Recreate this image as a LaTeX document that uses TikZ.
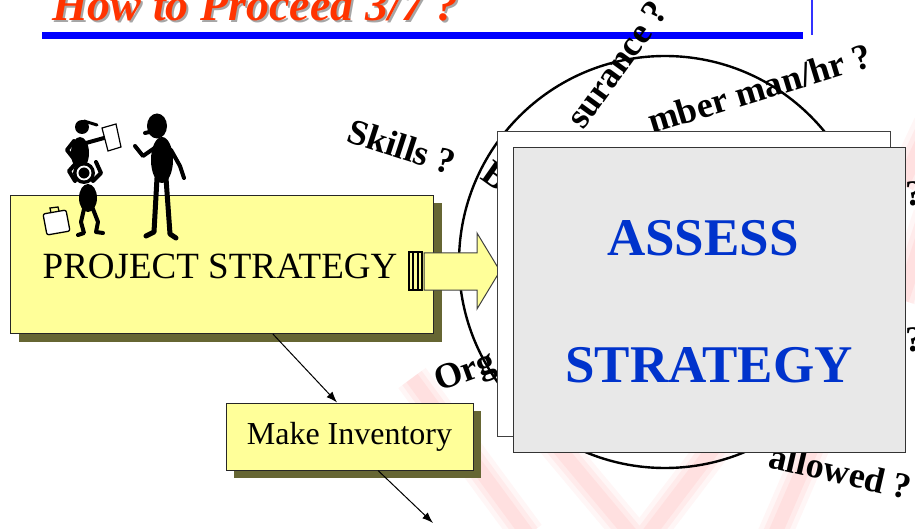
\documentclass[tikz,border=0pt]{standalone}
\usepackage{fontspec}
\setmainfont{Liberation Serif}
\usetikzlibrary{arrows.meta,calc,shadows}

\definecolor{padyellow}{HTML}{FFFF99}
\definecolor{padshadow}{HTML}{666633}
\definecolor{titlered}{HTML}{FF3300}
\definecolor{assessblue}{HTML}{0033CC}
\definecolor{panelgray}{HTML}{E8E8E8}

\newcommand{\px}[1]{\fontsize{#1}{#1}\selectfont}

\begin{document}
\begin{tikzpicture}[x=1pt,y=-1pt,
    pad/.style={fill=padyellow,draw=black!85,line width=1pt,
      drop shadow={shadow xshift=8pt,shadow yshift=-8pt,fill=padshadow,opacity=1}},
    question/.style={font=\bfseries\px{36},anchor=base west,inner sep=0pt},
    link/.style={-{Latex[length=11pt,width=8pt]},line width=1pt},
    figure/.style={line width=4pt,line cap=round,line join=round}]
  \useasboundingbox (0,0) rectangle (915,529);
  \clip (0,0) rectangle (915,529);

  % The faint logo behind everything.
  \foreach \w/\o in {34/0.06,24/0.08,14/0.08} {
    \begin{scope}[red!60,opacity=\o,line width=\w pt]
      \draw (412,378) -- (528,535);
      \draw (552,440) -- (640,545) -- (720,440);
      \draw (835,395) -- (770,545);
      \draw (902,300) -- (930,215);
      \draw (902,185) -- (930,125);
    \end{scope}
  }

  % Title and rule.
  \node[font=\bfseries\itshape\px{46},text=black!35,anchor=base west,inner sep=0pt] (titleshadow) at (54,23) {How to Proceed 3/7 ?};
  \node[font=\bfseries\itshape\px{46},text=titlered,anchor=base west,inner sep=0pt] (title) at (52,21) {How to Proceed 3/7 ?};
  \fill[blue] (42,32) rectangle (803,39);
  \draw[blue!80,line width=1.5pt] (812,0) -- (812,35);

  % The ring of questions.
  \draw[line width=2.4pt] (665,262) circle (206);
  \node[question,rotate=-18] (skills) at (345,141) {Skills ?};
  \node[question,rotate=-35] (budget) at (479,178) {B};
  \node[question,rotate=54] (insure) at (583,131) {surance ?};
  \node[question,rotate=17] (manhr) at (652,134) {mber man/hr ?};
  \node[question,rotate=20] (org) at (439,392) {Org};
  \node[question,rotate=-13] (allowed) at (767,467) {allowed ?};
  \foreach \y/\n in {206/qa,351/qb}
    \node[question] (\n) at (905,\y) {?};

  % Project strategy with its people.
  \node[pad,minimum width=423pt,minimum height=138pt,anchor=north west] (ps) at (10,195) {};
  \node[font=\px{37},anchor=base] (pstext) at (220,278) {PROJECT STRATEGY};
  \draw[fill=padyellow,line width=1.2pt] (409,252) rectangle (422,290);
  \draw[line width=1.2pt] (413,252) -- (413,290) (418,252) -- (418,290);
  \draw[fill=padyellow,draw=black!75,line width=1pt]
    (424,253) -- (477,253) -- (477,233) -- (500,271) -- (477,309) -- (477,290) -- (424,290) -- cycle;

  % The two sheets of the assessment.
  \node[draw=black!75,fill=white,line width=1pt,minimum width=393pt,minimum height=305pt,anchor=north west] (back) at (497,131) {};
  \node[draw=black!80,fill=panelgray,line width=1.2pt,minimum width=392pt,minimum height=305pt,anchor=north west] (front) at (513,147) {};
  \node[font=\bfseries\px{53},text=assessblue,anchor=base] (assess) at (703,255) {ASSESS};
  \node[font=\bfseries\px{53},text=assessblue,anchor=base] (strategy) at (709,382) {STRATEGY};

  % The inventory step and its links.
  \node[pad,minimum width=247pt,minimum height=67pt,font=\px{32}] (inv) at (349.5,436.5) {Make Inventory};
  \coordinate (next) at (433,523);
  \draw[link] ($(ps.south west)!0.62!(ps.south east)$) -- ($(inv.north west)!0.45!(inv.north east)$);
  \draw[link] ($(inv.south west)!0.615!(inv.south east)$) -- (next);

  % Briefcase.
  \draw[line width=1.3pt,fill=white,rounded corners=2pt] (43,214) -- (66,210) -- (70,231) -- (47,235) -- cycle;
  \draw[line width=1.3pt] (51,213) -- (50,208) -- (58,207) -- (59,211);
  % Man with the paper.
  \fill (82,127) circle (7);
  \draw[figure,line width=3pt] (84,121) -- (97,125);
  \fill (80,153) ellipse (9 and 16);
  \draw[figure] (86,143) -- (104,138);
  \draw[figure] (74,141) -- (67,150) -- (74,159);
  \draw[fill=white,line width=1.2pt] (102,128) -- (116,124) -- (121,147) -- (108,151) -- cycle;
  % Child with hands on the head.
  \fill (84,173) circle (11);
  \draw[white,line width=1.8pt] (84,173) circle (6.5);
  \draw[figure] (75,181) -- (69,171) -- (77,162);
  \draw[figure] (93,181) -- (101,173) -- (96,162);
  \fill (88,198) ellipse (9 and 14);
  \draw[figure] (84,209) -- (81,222) -- (84,233) -- (78,235);
  \draw[figure] (93,209) -- (98,222) -- (96,232) -- (103,233);
  % Tall man.
  \fill (157,126) ellipse (10 and 12.5);
  \draw[figure] (145,133) -- (154,131);
  \fill (162,160) ellipse (11 and 23);
  \draw[figure] (156,147) -- (143,156) -- (135,146);
  \draw[figure] (171,150) -- (180,166) -- (184,178);
  \draw[figure,line width=5pt] (157,178) -- (154,232) -- (146,236);
  \draw[figure,line width=5pt] (166,178) -- (170,234) -- (176,238);
\end{tikzpicture}
\end{document}
